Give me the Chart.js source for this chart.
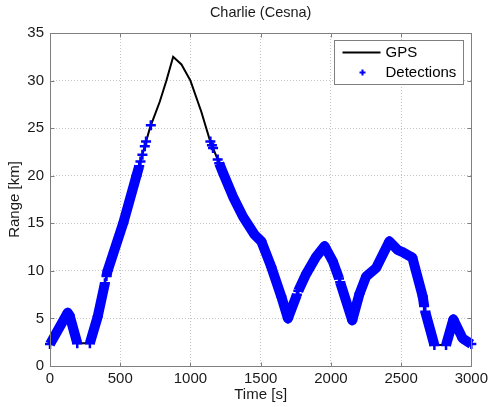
<!DOCTYPE html>
<html><head><meta charset="utf-8">
<script src="https://cdn.jsdelivr.net/npm/chart.js@4"></script>
<style>html,body{margin:0;padding:0;background:#fff;}#wrap{width:492px;height:407px;position:relative;}</style>
</head><body><div id="wrap"><canvas id="c"></canvas></div>
<script>
const chartTitle = 'Charlie (Cesna)';
const xTitle = 'Time [s]';
const yTitle = 'Range [km]';
const seriesNames = ['GPS', 'Detections'];
const xTicks = [0, 500, 1000, 1500, 2000, 2500, 3000];
const yTicks = [0, 5, 10, 15, 20, 25, 30, 35];

// GPS track (time in s, range in km)
const gpsTime  = [0,126,140,194,284,340,410,521,616,711,782,829,877,936,1000,1078,1137,1232,1303,1374,1457,1505,1576,1647,1694,1765,1825,1896,1955,2014,2062,2152,2204,2251,2322,2417,2476,2520,2580,2654,2664,2672,2737,2820,2872,2938,3000];
const gpsRange = [2.3,5.6,5.3,2.4,2.4,5.2,10.0,15.0,20.0,25.0,27.8,30.0,32.5,31.7,30.0,26.7,23.8,20.3,17.8,15.7,13.8,13.1,10.4,7.3,5.0,7.8,9.7,11.5,12.6,11.0,9.0,4.8,7.6,9.4,10.3,13.1,12.2,11.9,11.4,7.3,6.3,5.7,2.2,2.2,4.9,2.9,2.3];

// Detections (null separates runs of detections)
const detTime  = [0,126,140,194,null, 284,340,391,null, 402,410,521,616,635,null, 644,null,658,null,675,null,684,null,718,null, 1142,null,1153,null,1161,null,1194,null, 1205,1232,1303,1374,1457,1505,1576,1647,1694,1758,null, 1768,1825,1896,1955,2014,2058,null, 2066,2152,2204,2251,2322,2417,2476,2520,2580,2654,2664,null, 2672,2737,null, 2820,2872,2938,3000];
const detRange = [2.3,5.6,5.3,2.4,null, 2.4,5.2,8.7,null, 9.45,10.0,15.0,20.0,21.0,null, 21.5,null,22.2,null,23.1,null,23.6,null,25.3,null, 23.6,null,23.2,null,22.9,null,21.7,null, 21.3,20.3,17.8,15.7,13.8,13.1,10.4,7.3,5.0,7.5,null, 7.9,9.7,11.5,12.6,11.0,9.2,null, 8.8,4.8,7.6,9.4,10.3,13.1,12.2,11.9,11.4,7.3,6.3,null, 5.7,2.2,null, 2.2,4.9,2.9,2.3];

const FONT = "'Liberation Sans', Arial, Helvetica, sans-serif";
const AXIS_COLOR = '#7f7f7f';
const BLUE = '#0000ff';

const gpsData = gpsTime.map((t, i) => ({x: t, y: gpsRange[i]}));
let lastT = 0;
const detData = detTime.map((t, i) => {
  if (t === null) return {x: lastT, y: null};
  lastT = t;
  return {x: t, y: detRange[i]};
});

const framePlugin = {
  id: 'frame',
  afterDatasetsDraw(chart) {
    const {ctx, chartArea: a, scales} = chart;
    const L = Math.round(a.left) + 0.5, T = Math.round(a.top) + 0.5;
    const R = Math.round(a.right) + 0.5, B = Math.round(a.bottom) + 0.5;
    ctx.save();
    ctx.strokeStyle = AXIS_COLOR;
    ctx.lineWidth = 1;
    ctx.beginPath();
    ctx.rect(L, T, R - L, B - T);
    const tl = 4;
    xTicks.forEach(v => {
      const x = Math.round(scales.x.getPixelForValue(v)) + 0.5;
      ctx.moveTo(x, B); ctx.lineTo(x, B - tl);
      ctx.moveTo(x, T); ctx.lineTo(x, T + tl);
    });
    yTicks.forEach(v => {
      const y = Math.round(scales.y.getPixelForValue(v)) + 0.5;
      ctx.moveTo(L, y); ctx.lineTo(L + tl, y);
      ctx.moveTo(R, y); ctx.lineTo(R - tl, y);
    });
    ctx.stroke();
    ctx.restore();
  },
  afterDraw(chart) {
    const {ctx, chartArea: a} = chart;
    const ds = chart.data.datasets;
    const w = 129, h = 44;
    const bx = Math.round(a.right - 8 - w) + 0.5, by = Math.round(a.top + 7) + 0.5;
    ctx.save();
    ctx.fillStyle = '#ffffff';
    ctx.strokeStyle = AXIS_COLOR;
    ctx.lineWidth = 1;
    ctx.fillRect(bx, by, w, h);
    ctx.strokeRect(bx, by, w, h);
    const y1 = by + 12, y2 = by + 32;
    ctx.strokeStyle = '#000';
    ctx.lineWidth = 2;
    ctx.beginPath(); ctx.moveTo(bx + 8, y1); ctx.lineTo(bx + 46, y1); ctx.stroke();
    ctx.strokeStyle = BLUE;
    ctx.lineWidth = 2;
    const cx = bx + 28;
    ctx.beginPath();
    ctx.moveTo(cx - 3, y2); ctx.lineTo(cx + 3, y2);
    ctx.moveTo(cx, y2 - 3); ctx.lineTo(cx, y2 + 3);
    ctx.stroke();
    ctx.fillStyle = '#000';
    ctx.font = '15px ' + FONT;
    ctx.textBaseline = 'middle';
    ctx.textAlign = 'left';
    ctx.fillText(ds[1].label, bx + 51, y1);
    ctx.fillText(ds[0].label, bx + 51, y2);
    ctx.restore();
  }
};

new Chart(document.getElementById('c'), {
  type: 'line',
  data: {
    datasets: [
      {
        label: seriesNames[1],
        data: detData,
        order: 0,
        borderColor: BLUE,
        backgroundColor: BLUE,
        borderWidth: 10,
        borderJoinStyle: 'round',
        borderCapStyle: 'butt',
        pointStyle: 'cross',
        pointRadius: 5,
        pointBorderWidth: 2.5,
        pointBorderColor: BLUE,
        pointBackgroundColor: BLUE,
        pointHoverRadius: 5,
        spanGaps: false,
        tension: 0,
        clip: false
      },
      {
        label: seriesNames[0],
        data: gpsData,
        order: 1,
        borderColor: '#000',
        borderWidth: 2,
        pointRadius: 0,
        tension: 0,
        fill: false
      }
    ]
  },
  options: {
    responsive: true,
    maintainAspectRatio: false,
    animation: false,
    devicePixelRatio: 1,
    layout: {padding: {left: 0, right: 20, top: 0, bottom: 0}},
    plugins: {
      legend: {display: false},
      tooltip: {enabled: false},
      title: {
        display: true,
        text: chartTitle,
        fullSize: false,
        color: '#1a1a1a',
        font: {family: FONT, size: 14.5, weight: 'normal', lineHeight: 1.2},
        padding: {top: 4, bottom: 11.6}
      }
    },
    scales: {
      x: {
        type: 'linear',
        min: xTicks[0],
        max: xTicks[xTicks.length - 1],
        afterBuildTicks: s => { s.ticks = xTicks.map(v => ({value: v})); },
        afterFit: s => { s.height = 41; },
        grid: {color: '#c4c4c4', lineWidth: 1, drawTicks: false},
        border: {display: false, dash: [1, 2]},
        ticks: {color: '#1a1a1a', padding: 4, font: {family: FONT, size: 15}, maxRotation: 0, callback: v => String(v)},
        title: {display: true, text: xTitle, color: '#1a1a1a', font: {family: FONT, size: 15}, padding: {top: 0, bottom: 3}}
      },
      y: {
        type: 'linear',
        min: yTicks[0],
        max: yTicks[yTicks.length - 1],
        afterBuildTicks: s => { s.ticks = yTicks.map(v => ({value: v})); },
        afterFit: s => { s.width = 50; },
        grid: {color: '#c4c4c4', lineWidth: 1, drawTicks: false},
        border: {display: false, dash: [1, 2]},
        ticks: {color: '#1a1a1a', padding: 6, font: {family: FONT, size: 15}, callback: v => String(v)},
        title: {display: true, text: yTitle, color: '#1a1a1a', font: {family: FONT, size: 15}, padding: {top: 6, bottom: 0}}
      }
    }
  },
  plugins: [framePlugin]
});
</script>
</body></html>
